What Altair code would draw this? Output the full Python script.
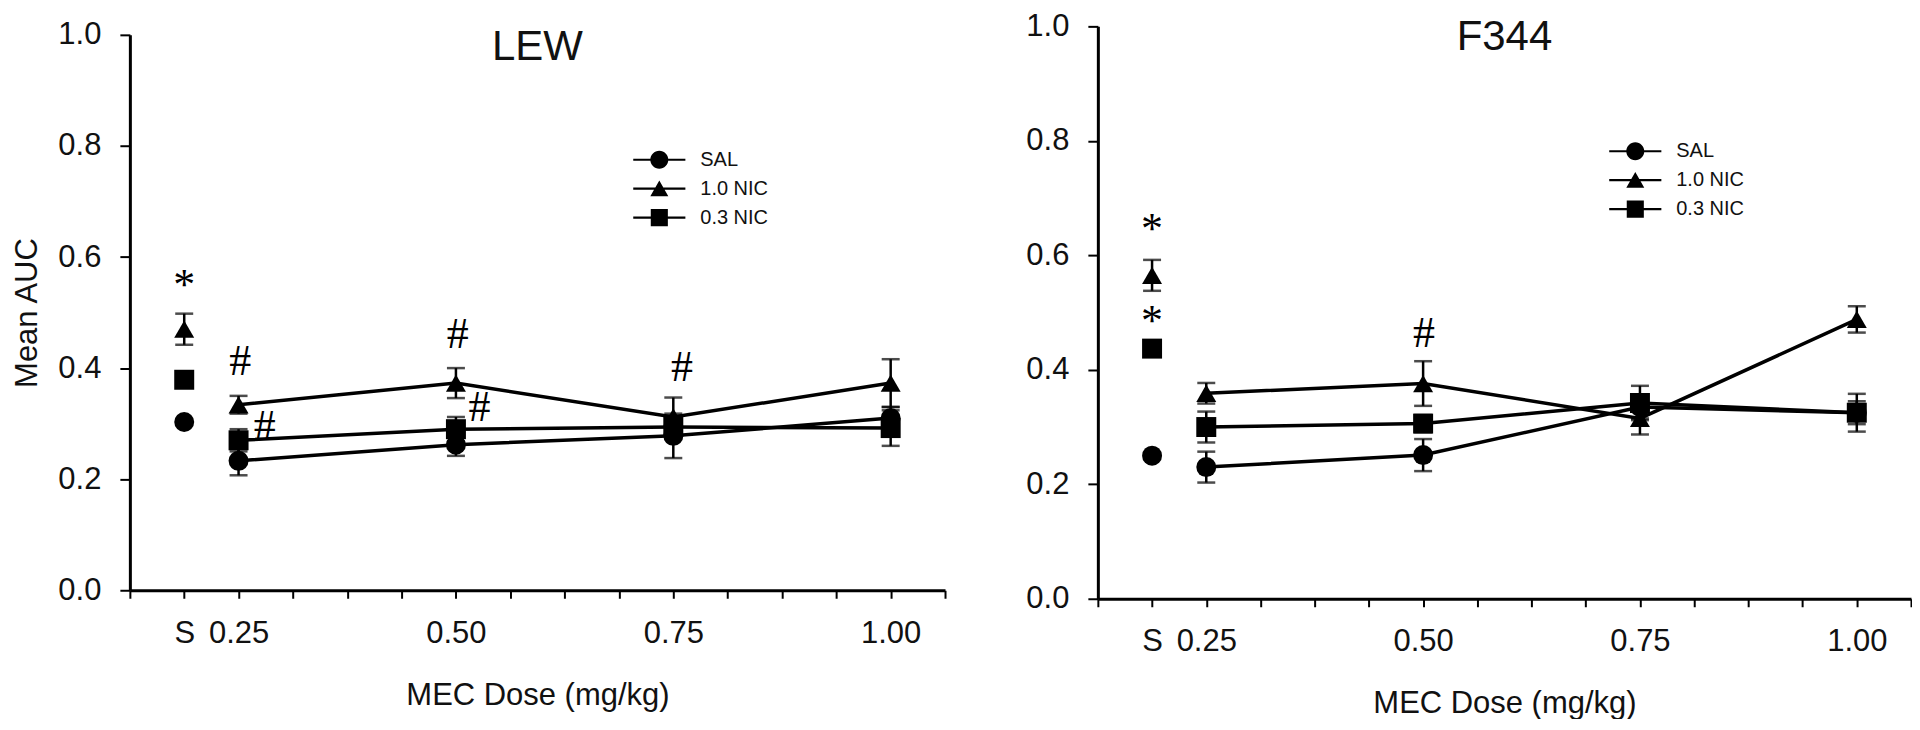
import altair as alt
import pandas as pd

# ---------------- data ----------------
groups = ["SAL", "1.0 NIC", "0.3 NIC"]
doses = [0.1875, 0.25, 0.50, 0.75, 1.00]          # first position = "S"

lew_sal_mean = [0.303, 0.233, 0.262, 0.278, 0.310]
lew_sal_err = [0.0, 0.026, 0.020, 0.040, 0.020]
lew_nic10_mean = [0.470, 0.334, 0.373, 0.312, 0.373]
lew_nic10_err = [0.028, 0.016, 0.027, 0.035, 0.043]
lew_nic03_mean = [0.379, 0.270, 0.290, 0.294, 0.292]
lew_nic03_err = [0.0, 0.020, 0.022, 0.020, 0.032]

f344_sal_mean = [0.250, 0.230, 0.251, 0.335, 0.325]
f344_sal_err = [0.0, 0.027, 0.028, 0.020, 0.020]
f344_nic10_mean = [0.565, 0.359, 0.376, 0.315, 0.488]
f344_nic10_err = [0.027, 0.018, 0.039, 0.028, 0.023]
f344_nic03_mean = [0.437, 0.300, 0.306, 0.342, 0.325]
f344_nic03_err = [0.0, 0.027, 0.015, 0.030, 0.033]

lew_ann_x = [0.1875, 0.252, 0.280, 0.502, 0.527, 0.760]
lew_ann_y = [0.547, 0.411, 0.294, 0.460, 0.329, 0.400]
lew_ann_t = ["*", "#", "#", "#", "#", "#"]

f344_ann_x = [0.1875, 0.1875, 0.501]
f344_ann_y = [0.645, 0.484, 0.463]
f344_ann_t = ["*", "*", "#"]

x_tick_values = [0.125, 0.1875, 0.25, 0.3125, 0.375, 0.4375, 0.5, 0.5625,
                 0.625, 0.6875, 0.75, 0.8125, 0.875, 0.9375, 1.0, 1.0625]
x_label_pos = [0.1875, 0.25, 0.5, 0.75, 1.0]
x_label_txt = ["S", "0.25", "0.50", "0.75", "1.00"]
y_tick_values = [0.0, 0.2, 0.4, 0.6, 0.8, 1.0]

shapes = ["circle", "triangle-up", "square"]
legend_paths = [
    "M-2.9,-0.12H2.9V0.12H-2.9ZM1,0A1,1,0,1,1,-1,0A1,1,0,1,1,1,0Z",
    "M-2.9,-0.12H2.9V0.12H-2.9ZM0,-0.9L1,0.85L-1,0.85Z",
    "M-2.9,-0.12H2.9V0.12H-2.9ZM-0.95,-0.95H0.95V0.95H-0.95Z",
]


def build_df(series):
    rows = []
    for g, (means, errs) in zip(groups, series):
        for d, m, e in zip(doses, means, errs):
            rows.append({"group": g, "dose": d, "mean": m, "err": e})
    return pd.DataFrame(rows)


lew_df = build_df([(lew_sal_mean, lew_sal_err), (lew_nic10_mean, lew_nic10_err),
                   (lew_nic03_mean, lew_nic03_err)])
f344_df = build_df([(f344_sal_mean, f344_sal_err), (f344_nic10_mean, f344_nic10_err),
                    (f344_nic03_mean, f344_nic03_err)])
lew_ann = pd.DataFrame({"dose": lew_ann_x, "mean": lew_ann_y, "t": lew_ann_t})
f344_ann = pd.DataFrame({"dose": f344_ann_x, "mean": f344_ann_y, "t": f344_ann_t})

label_expr = "".join(
    f"datum.value == {p} ? '{t}' : " for p, t in zip(x_label_pos, x_label_txt)
) + "''"

FONT = "Liberation Sans"
INK = "#111111"


def make_panel(name, data, ann, width, height, ytitle, leg_x, leg_y, title_y):
    xscale = alt.Scale(domain=[0.125, 1.0625], nice=False, zero=False)
    yscale = alt.Scale(domain=[0, 1], nice=False, zero=False)
    xaxis = alt.Axis(title="MEC Dose (mg/kg)", values=x_tick_values, labelExpr=label_expr,
                     labelOverlap=False, labelFlush=False, grid=False, tickSize=8,
                     labelPadding=20, titlePadding=32)
    if ytitle:
        yaxis = alt.Axis(title=ytitle, values=y_tick_values, format=".1f", grid=False,
                         tickSize=10, labelPadding=19, titlePadding=14, labelFlush=False)
    else:
        yaxis = alt.Axis(title=None, values=y_tick_values, format=".1f", grid=False,
                         tickSize=10, labelPadding=19, labelFlush=False)

    def X(f):
        return alt.X(f"{f}:Q", scale=xscale, axis=xaxis)

    def Y(f):
        return alt.Y(f"{f}:Q", scale=yscale, axis=yaxis)

    base = alt.Chart(data)
    line = base.transform_filter("datum.dose >= 0.25").mark_line(
        color="black", strokeWidth=3.5).encode(x=X("dose"), y=Y("mean"), detail="group:N")
    errb = base.transform_filter("datum.err > 0").transform_calculate(
        lo="datum.mean - datum.err", hi="datum.mean + datum.err")
    rule = errb.mark_rule(color="black", strokeWidth=2.5).encode(
        x=X("dose"), y=Y("lo"), y2="hi:Q")
    cap_lo = errb.mark_tick(orient="horizontal", color="black", thickness=2.5, size=18).encode(
        x=X("dose"), y=Y("lo"))
    cap_hi = errb.mark_tick(orient="horizontal", color="black", thickness=2.5, size=18).encode(
        x=X("dose"), y=Y("hi"))
    pts = base.mark_point(filled=True, color="black", opacity=1, size=400).encode(
        x=X("dose"), y=Y("mean"),
        shape=alt.Shape("group:N", scale=alt.Scale(domain=groups, range=shapes), legend=None))
    leg = base.transform_filter("datum.dose == 0.1875").mark_point(
        filled=True, color="black", opacity=0, size=324).encode(
        x=X("dose"), y=Y("mean"),
        shape=alt.Shape("group:N", scale=alt.Scale(domain=groups, range=legend_paths),
                        legend=alt.Legend(orient="none", legendX=leg_x, legendY=leg_y,
                                          direction="vertical", title=None, padding=0,
                                          labelFont=FONT, labelFontSize=20, labelColor=INK,
                                          symbolSize=324, symbolFillColor="black",
                                          symbolStrokeColor="black", symbolStrokeWidth=0,
                                          symbolOpacity=1, labelOffset=31, rowPadding=9)))
    notes = alt.Chart(ann).mark_text(font="Liberation Serif", fontSize=44, color="black",
                                     align="center", baseline="middle").encode(
        x=X("dose"), y=Y("mean"), text="t:N")
    title = alt.Chart(pd.DataFrame({"t": [name]})).mark_text(
        font=FONT, fontSize=42, color=INK, align="center", baseline="middle").encode(
        x=alt.value(width / 2), y=alt.value(title_y), text="t:N")

    return alt.layer(line, rule, cap_lo, cap_hi, pts, leg, notes, title).resolve_scale(
        shape="independent").properties(width=width, height=height)


left = make_panel("LEW", lew_df, lew_ann, 816, 556, "Mean AUC", 520, 115, 12)
right = make_panel("F344", f344_df, f344_ann, 814, 573, None, 528, 115, 11)

chart = alt.hconcat(left, right, spacing=79, center=True).properties(
    padding={"left": 3, "top": 2, "right": 0, "bottom": 0}
).configure_view(stroke=None).configure_axis(
    labelFont=FONT, titleFont=FONT, labelFontSize=31, titleFontSize=31,
    labelColor=INK, titleColor=INK, titleFontWeight="normal",
    domainColor="black", domainWidth=3, tickColor="black", tickWidth=2
)

chart.save("out.html", embed_options={"renderer": "svg", "actions": False})
